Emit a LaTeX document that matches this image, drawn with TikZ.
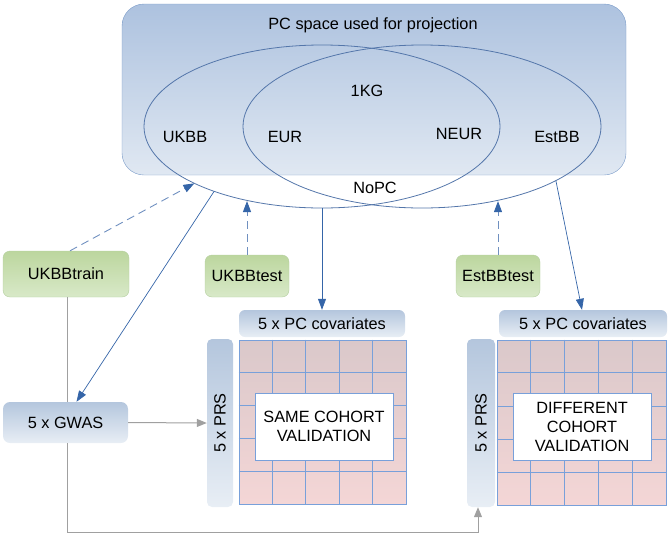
\documentclass[tikz,border=0pt]{standalone}
\usepackage{fontspec}
\setsansfont{Liberation Sans}
\definecolor{SpaceTop}{HTML}{ADC2DF}
\definecolor{SpaceBot}{HTML}{E0E8F2}
\definecolor{SpaceLine}{HTML}{7A9BC8}
\definecolor{RingLine}{HTML}{5476AA}
\definecolor{ArrowBlue}{HTML}{3565A8}
\definecolor{DashBlue}{HTML}{7090C0}
\definecolor{LeafTop}{HTML}{BCD69E}
\definecolor{LeafBot}{HTML}{D8E9C8}
\definecolor{LeafLine}{HTML}{B4CFA0}
\definecolor{HeadTop}{HTML}{B4C6DD}
\definecolor{HeadBot}{HTML}{E8EEF5}
\definecolor{CellTop}{HTML}{DAC8CA}
\definecolor{CellBot}{HTML}{F4D6D6}
\definecolor{CellLine}{HTML}{78A0DA}
\definecolor{FlowGray}{HTML}{A0A0A0}
\usepackage{tikz}
\usetikzlibrary{shapes.geometric, arrows.meta, calc}
\tikzset{
  txt/.style={font=\sffamily\fontsize{16.3}{19}\selectfont, align=center, inner sep=1pt},
  spacebox/.style={rectangle, rounded corners=22pt, draw=SpaceLine, top color=SpaceTop, bottom color=SpaceBot, minimum width=504, minimum height=171},
  ring/.style={ellipse, draw=RingLine, line width=0.8pt, inner sep=0pt, outer sep=0pt, minimum height=163},
  cohortbox/.style={rectangle, rounded corners=7pt, draw=LeafLine, top color=LeafTop, bottom color=LeafBot, txt, minimum height=42},
  gwasbox/.style={rectangle, rounded corners=7pt, draw=none, top color=HeadTop, bottom color=HeadBot, txt, minimum width=125, minimum height=41},
  headbox/.style={rectangle, rounded corners=6pt, draw=none, top color=HeadTop, bottom color=HeadBot, txt, minimum height=27},
  prsbar/.style={rectangle, rounded corners=5pt, draw=none, top color=HeadTop, bottom color=HeadBot, minimum height=168},
  cellgrid/.style={rectangle, draw=CellLine, line width=0.6pt, top color=CellTop, bottom color=CellBot, minimum width=168, minimum height=164},
  resultbox/.style={rectangle, draw=CellLine, line width=0.6pt, fill=white, txt, minimum width=138, minimum height=67},
  gridline/.style={draw=CellLine, line width=0.8pt},
  arrow/.style={-{Triangle[length=11pt,width=8pt]}, ArrowBlue, line width=0.7pt},
  dashedarrow/.style={DashBlue, line width=0.9pt, dash pattern=on 8pt off 5pt, -{Triangle[length=11pt,width=8pt,color=ArrowBlue,fill=ArrowBlue]}},
  grayarrow/.style={-{Triangle[length=10pt,width=8pt]}, FlowGray, line width=1pt},
  grayline/.style={FlowGray, line width=1pt}
}

\begin{document}
\begin{tikzpicture}[x=1pt, y=-1pt]
  \useasboundingbox (0,0) rectangle (671,536);

  \node[spacebox] (space) at (374,89.5) {};
  \node[txt] (spacetitle) at (373,25) {PC space used for projection};
  \node[ring, minimum width=356] (ukbbring) at (322,126.5) {};
  \node[ring, minimum width=358] (estbbring) at (422,126.5) {};
  \node[txt] (kg) at (367,91) {1KG};
  \node[txt] (ukbb) at (185,137) {UKBB};
  \node[txt] (eur) at (285,137) {EUR};
  \node[txt] (neur) at (459,134) {NEUR};
  \node[txt] (estbb) at (557,137) {EstBB};
  \node[txt] (nopc) at (375,188) {NoPC};

  \node[cohortbox, minimum width=126, minimum height=46] (ukbbtrain) at (66,274) {UKBBtrain};
  \node[cohortbox, minimum width=84] (ukbbtest) at (247,276) {UKBBtest};
  \node[cohortbox, minimum width=84] (estbbtest) at (498,276) {EstBBtest};
  \node[gwasbox] (gwas) at (65.5,422.5) {5 x GWAS};

  \node[headbox, minimum width=166] (covsame) at (322,323.5) {5 x PC covariates};
  \node[headbox, minimum width=168] (covdiff) at (583,323.5) {5 x PC covariates};
  \node[prsbar, minimum width=26] (prssame) at (220,423) {};
  \node[txt, rotate=90] (prssamelbl) at (prssame) {5 x PRS};
  \node[prsbar, minimum width=28] (prsdiff) at (481,423) {};
  \node[txt, rotate=90] (prsdifflbl) at (prsdiff) {5 x PRS};

  \node[cellgrid, minimum width=167] (gridsame) at (322.5,422) {};
  \node[cellgrid, minimum width=169, minimum height=165] (griddiff) at (581.5,422.5) {};
  \foreach \g in {gridsame, griddiff} {
    \foreach \i in {1,...,4} {
      \draw[gridline] ($(\g.north west)!\i/5!(\g.north east)$) -- ($(\g.south west)!\i/5!(\g.south east)$);
      \draw[gridline] ($(\g.north west)!\i/5!(\g.south west)$) -- ($(\g.north east)!\i/5!(\g.south east)$);
    }
  }
  \node[resultbox] (same) at (324,426.5) {SAME COHORT\\VALIDATION};
  \node[resultbox] (diff) at (582,426.5) {DIFFERENT\\COHORT\\VALIDATION};

  \draw[dashedarrow] ([xshift=4pt]ukbbtrain.north) -- (ukbbring.204);
  \draw[arrow] (ukbbring.211) -- ([xshift=11pt]gwas.north);
  \draw[dashedarrow] (ukbbtest.north) -- (ukbbtest.north |- ukbbring.226);
  \draw[arrow] (ukbbring.south) -- (covsame.north);
  \draw[dashedarrow] (estbbtest.north) -- (estbbtest.north |- estbbring.314);
  \draw[arrow] (estbbring.338) -- ([xshift=-1pt]covdiff.north);

  \draw[grayline] ([xshift=1pt]ukbbtrain.south) -- ([xshift=1.5pt]gwas.north);
  \draw[grayarrow] (gwas.east) -- (prssame.west);
  \coordinate (flowcorner) at (67,532);
  \draw[grayarrow] ([xshift=1.5pt]gwas.south) -- (flowcorner) -| ([xshift=-3pt]prsdiff.south);
\end{tikzpicture}
\end{document}
